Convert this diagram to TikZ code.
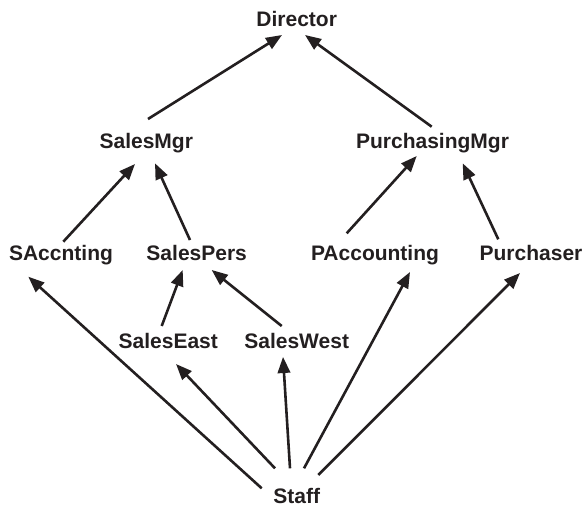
\documentclass[tikz,border=0pt]{standalone}
\usepackage{fontspec}
\setmainfont{Liberation Sans}
\usetikzlibrary{arrows.meta}
\definecolor{ink}{HTML}{231F20}
\begin{document}
\begin{tikzpicture}[x=1pt,y=-1pt,
  role/.style={anchor=base,inner sep=0pt,text=ink,
    font=\fontsize{21}{25}\selectfont\bfseries},
  edge/.style={draw=ink,line width=2.6pt,
    -{Triangle[length=16pt,width=12.5pt]}}]
\useasboundingbox (0,0) rectangle (584,509);

% roles, placed by their baselines
\node[role] (dir)   at (296.7,26.7)  {Director};
\node[role] (smgr)  at (146.3,148)   {SalesMgr};
\node[role] (pmgr)  at (432.5,148)   {PurchasingMgr};
\node[role] (sacc)  at (61,260)      {SAccnting};
\node[role] (spers) at (196.7,260)   {SalesPers};
\node[role] (pacc)  at (375,260)     {PAccounting};
\node[role] (purch) at (531,260)     {Purchaser};
\node[role] (seast) at (168.3,348.3) {SalesEast};
\node[role] (swest) at (296.7,348.3) {SalesWest};
\node[role] (staff) at (296.7,503.3) {Staff};

% managers report to the director
\draw[edge] ([shift={(1.7,-29)}]smgr.base)   -- ([shift={(-14.7,8.3)}]dir.base);
\draw[edge] ([shift={(-0.8,-21.3)}]pmgr.base) -- ([shift={(8.3,8.3)}]dir.base);

% sales side
\draw[edge] ([shift={(2.3,-18.3)}]sacc.base)  -- ([shift={(-11.3,16)}]smgr.base);
\draw[edge] ([shift={(-6.7,-20)}]spers.base)  -- ([shift={(8.7,15.3)}]smgr.base);
\draw[edge] ([shift={(-6.6,-22.3)}]seast.base) -- ([shift={(-14,10)}]spers.base);
\draw[edge] ([shift={(-15,-22.3)}]swest.base) -- ([shift={(15,10)}]spers.base);

% purchasing side
\draw[edge] ([shift={(-28.3,-26.7)}]pacc.base) -- ([shift={(-15.8,8)}]pmgr.base);
\draw[edge] ([shift={(-32.7,-20.7)}]purch.base) -- ([shift={(30.2,15.3)}]pmgr.base);

% staff fans out to every leaf role
\draw[edge] ([shift={(-35,-15)}]staff.base)   -- ([shift={(-32.7,16.7)}]sacc.base);
\draw[edge] ([shift={(-21.7,-35)}]staff.base) -- ([shift={(7.7,15.7)}]seast.base);
\draw[edge] ([shift={(-6.7,-35)}]staff.base)  -- ([shift={(-13.7,8.7)}]swest.base);
\draw[edge] ([shift={(7.3,-35)}]staff.base)   -- ([shift={(35,12)}]pacc.base);
\draw[edge] ([shift={(21.6,-28.3)}]staff.base) -- ([shift={(-11,13)}]purch.base);
\end{tikzpicture}
\end{document}
